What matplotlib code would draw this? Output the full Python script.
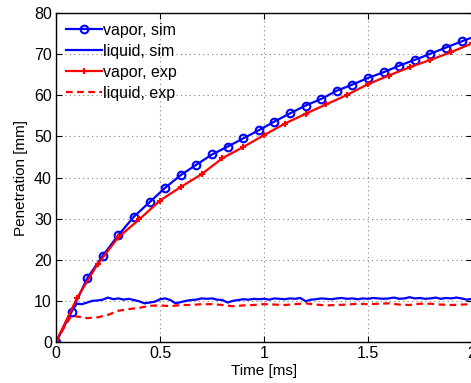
import matplotlib
matplotlib.use("Agg")
import matplotlib.pyplot as plt
import numpy as np

plt.rcParams['font.family'] = ['Liberation Sans', 'DejaVu Sans']

# vapor, simulation (markers every 0.075 ms)
t_vap_sim = [0, 0.075, 0.15, 0.225, 0.3, 0.375, 0.45, 0.525, 0.6, 0.675, 0.75, 0.825,
             0.9, 0.975, 1.05, 1.125, 1.2, 1.275, 1.35, 1.425, 1.5, 1.575, 1.65, 1.725,
             1.8, 1.875, 1.95, 2.025]
vap_sim = [0, 7.4, 15.5, 21.0, 26.0, 30.5, 34.0, 37.5, 40.6, 43.1, 45.6, 47.5,
           49.5, 51.5, 53.6, 55.6, 57.5, 59.1, 61.1, 62.6, 64.2, 65.6, 67.2, 68.6,
           70.1, 71.6, 73.1, 74.5]

# vapor, experiment (every 0.1 ms)
t_vap_exp = [0, 0.1, 0.2, 0.3, 0.4, 0.5, 0.6, 0.7, 0.8, 0.9, 1.0, 1.1, 1.2, 1.3, 1.4,
             1.5, 1.6, 1.7, 1.8, 1.9, 2.0]
vap_exp = [0, 10.6, 18.9, 25.5, 29.8, 34.4, 37.7, 40.8, 44.7, 47.4, 50.3, 53.1, 55.5,
           57.8, 60.1, 62.7, 64.8, 66.8, 68.6, 70.5, 72.6]

# liquid, simulation (every 0.025 ms)
t_liq_sim = [round(0.025 * i, 3) for i in range(81)]
liq_sim = [0, 2.5, 5.0, 7.5, 9.3, 9.2, 9.6, 10.0, 10.1, 10.3, 10.8, 10.4, 10.6, 10.3,
           10.5, 10.2, 9.9, 9.4, 9.6, 9.8, 10.4, 10.6, 10.2, 9.4, 9.7, 10.0, 10.2, 10.3,
           10.6, 10.5, 10.6, 10.3, 10.2, 9.6, 10.0, 10.2, 10.4, 10.3, 10.5, 10.4, 10.5,
           10.3, 10.6, 10.5, 10.4, 10.6, 10.5, 10.7, 9.9, 10.3, 10.4, 10.6, 10.5, 10.4,
           10.6, 10.7, 10.5, 10.6, 10.4, 10.6, 10.5, 10.7, 10.6, 10.5, 10.6, 10.8, 10.5,
           10.6, 10.9, 10.6, 10.7, 10.5, 10.6, 10.8, 10.5, 10.7, 10.6, 10.8, 10.6, 10.3,
           10.5]

# liquid, experiment
t_liq_exp = [0, 0.05, 0.075, 0.1, 0.15, 0.2, 0.25, 0.3, 0.35, 0.4, 0.45, 0.5, 0.55, 0.6,
             0.65, 0.7, 0.75, 0.8, 0.85, 0.9, 0.95, 1.0, 1.05, 1.1, 1.15, 1.2, 1.25, 1.3,
             1.35, 1.4, 1.45, 1.5, 1.55, 1.6, 1.65, 1.7, 1.75, 1.8, 1.85, 1.9, 1.95, 2.0]
liq_exp = [0, 4.5, 6.4, 6.2, 5.8, 6.0, 6.6, 7.6, 8.0, 8.3, 8.8, 8.9, 8.7, 9.0, 9.0, 9.2,
           9.2, 9.0, 8.7, 8.9, 9.0, 9.2, 9.1, 9.0, 9.2, 9.4, 9.1, 8.9, 9.0, 9.1, 9.3, 9.2,
           9.3, 9.4, 9.1, 9.0, 9.3, 9.3, 9.1, 9.0, 9.1, 9.2]

x_ticks = [0, 0.5, 1, 1.5, 2]
y_ticks = [0, 10, 20, 30, 40, 50, 60, 70, 80]

fig = plt.figure(figsize=(4.71, 3.83), dpi=100)
ax = fig.add_axes([56 / 471, 41 / 383, 416 / 471, 329 / 383])

ax.plot(t_vap_sim, vap_sim, color='#0000ff', lw=1.6, marker='o', ms=5.5,
        mfc='none', mec='#0000ff', mew=1.5, label='vapor, sim')
ax.plot(t_liq_sim, liq_sim, color='#0000ff', lw=1.6, label='liquid, sim')
ax.plot(t_vap_exp, vap_exp, color='#ff0000', lw=1.6, marker='+', ms=5, mew=1.5,
        label='vapor, exp')
ax.plot(t_liq_exp, liq_exp, color='#ff0000', lw=1.6, ls=(0, (3, 2)), label='liquid, exp')

ax.set_xlim(0, 2)
ax.set_ylim(0, 80)
ax.set_xticks(x_ticks)
ax.set_xticklabels(['0', '0.5', '1', '1.5', '2'])
ax.set_yticks(y_ticks)
ax.tick_params(direction='in', top=True, right=True, labelsize=11.5, length=4,
               width=0.8, pad=3)
ax.grid(True, ls=(0, (1, 3)), color='#808080', lw=0.8)
for s in ax.spines.values():
    s.set_linewidth(1.0)

ax.set_xlabel('Time [ms]', fontsize=11, labelpad=2)
ax.set_ylabel('Penetration [mm]', fontsize=11, labelpad=4)

leg = ax.legend(loc='upper left', frameon=False, fontsize=11.5, handlelength=2.3,
                handletextpad=0.05, borderaxespad=0.3, labelspacing=0.38,
                borderpad=0.3)

fig.savefig('out.png', dpi=100)
